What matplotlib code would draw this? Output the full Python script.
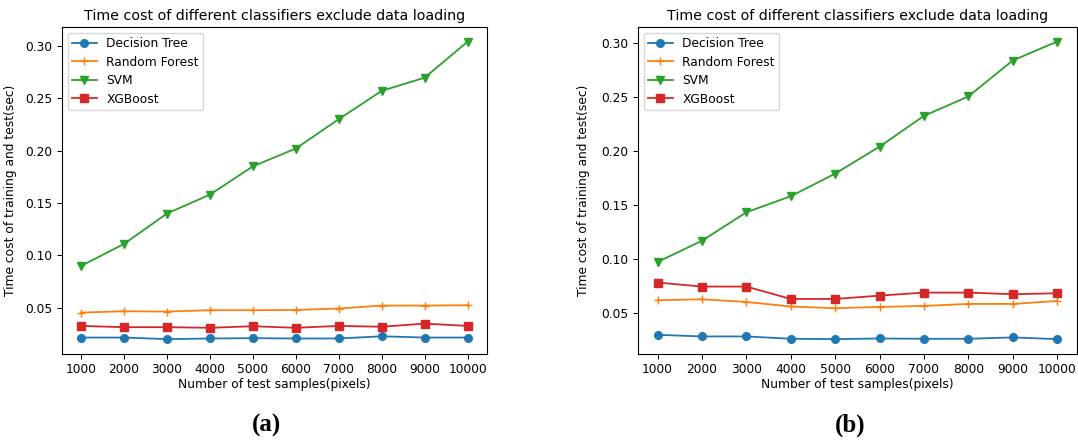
import matplotlib
matplotlib.use("Agg")
import matplotlib.pyplot as plt

samples = [1000, 2000, 3000, 4000, 5000, 6000, 7000, 8000, 9000, 10000]
classifiers = ["Decision Tree", "Random Forest", "SVM", "XGBoost"]

# panel (a)
dt_a = [0.0217, 0.0217, 0.0202, 0.0208, 0.0211, 0.0208, 0.0208, 0.0229, 0.0217, 0.0217]
rf_a = [0.0455, 0.0468, 0.0465, 0.0478, 0.0478, 0.0480, 0.0494, 0.0522, 0.0522, 0.0525]
svm_a = [0.090, 0.111, 0.140, 0.158, 0.185, 0.202, 0.230, 0.257, 0.2696, 0.304]
xgb_a = [0.0328, 0.0316, 0.0316, 0.0310, 0.0325, 0.0310, 0.0328, 0.0320, 0.0350, 0.0328]

# panel (b)
dt_b = [0.0293, 0.0278, 0.0278, 0.0256, 0.0253, 0.0259, 0.0256, 0.0256, 0.0269, 0.0253]
rf_b = [0.0614, 0.0623, 0.0598, 0.0556, 0.0540, 0.0552, 0.0561, 0.0580, 0.0580, 0.0607]
svm_b = [0.097, 0.1167, 0.1431, 0.158, 0.179, 0.204, 0.2326, 0.2506, 0.284, 0.3016]
xgb_b = [0.0778, 0.0741, 0.0741, 0.0626, 0.0626, 0.0657, 0.0685, 0.0685, 0.0670, 0.0679]

title = "Time cost of different classifiers exclude data loading"
xlabel = "Number of test samples(pixels)"
ylabel = "Time cost of training and test(sec)"
panel_labels = ["(a)", "(b)"]

colors = ["#1f77b4", "#ff7f0e", "#2ca02c", "#d62728"]
markers = ["o", "+", "v", "s"]

plt.rcParams["font.family"] = "DejaVu Sans"
fs = 8.8

W, H = 1078, 441
fig = plt.figure(figsize=(W / 100, H / 100), dpi=100)

boxes = [(61.7, 487.0), (637.7, 1077.0)]
top, bottom = 26.7, 354.0
datasets = [(dt_a, rf_a, svm_a, xgb_a), (dt_b, rf_b, svm_b, xgb_b)]
label_x = [266.7, 850.0]
ylabel_x = [16.7, 590.0]

for i, ((l, r), series) in enumerate(zip(boxes, datasets)):
    ax = fig.add_axes([l / W, 1 - bottom / H, (r - l) / W, (bottom - top) / H])
    for name, vals, c, m in zip(classifiers, series, colors, markers):
        ax.plot(samples, vals, color=c, marker=m, markersize=5.5, linewidth=1.3,
                markeredgewidth=1.0, label=name)
    ax.set_xticks(samples)
    ax.set_xticklabels([str(s) for s in samples])
    ax.tick_params(labelsize=fs, length=3.5, width=0.7, pad=3)
    ax.set_yticks([0.05, 0.10, 0.15, 0.20, 0.25, 0.30])
    ax.set_yticklabels(["0.05", "0.10", "0.15", "0.20", "0.25", "0.30"])
    for sp in ax.spines.values():
        sp.set_linewidth(0.8)
    ax.set_title(title, fontsize=10.3, pad=5)
    ax.set_xlabel(xlabel, fontsize=fs, labelpad=1.5)
    ax.set_ylabel(ylabel, fontsize=fs)
    ax.yaxis.set_label_coords((ylabel_x[i] - l) / (r - l), 0.5)
    ax.legend(loc="upper left", fontsize=fs, framealpha=0.8, borderpad=0.35,
              labelspacing=0.45, handlelength=2.0)
    fig.text(label_x[i] / W, 1 - 425 / H, panel_labels[i], ha="center", va="center",
             fontsize=18, fontweight="bold", family="Liberation Serif")

fig.savefig("out.png", dpi=100)
